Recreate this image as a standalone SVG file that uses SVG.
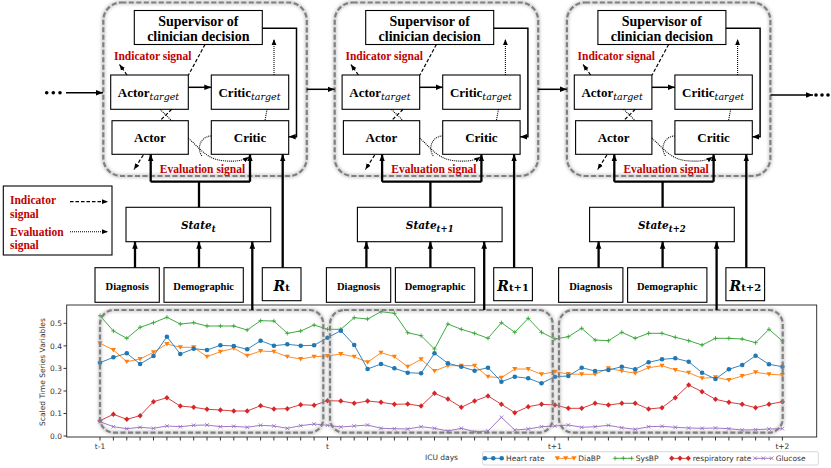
<svg xmlns="http://www.w3.org/2000/svg" width="831" height="468" viewBox="0 0 831 468">
<defs>
<style>
.box{fill:#fff;stroke:#000;stroke-width:1.1}
.sup{font:bold 14px "Liberation Serif",serif;text-anchor:middle}
.lab{font:bold 13px "Liberation Serif",serif;text-anchor:middle}
.sub{font-family:"DejaVu Serif",serif;font-style:italic;font-weight:normal;font-size:9.5px}
.sig{font:bold 11.5px "Liberation Serif",serif;fill:#c00000}
.small{font:bold 10.5px "Liberation Serif",serif;text-anchor:middle}
.math{font:bold italic 10.5px "DejaVu Serif",serif;text-anchor:middle}
.msub{font-size:8.5px}
.rr{font:bold italic 14px "DejaVu Serif",serif;text-anchor:middle}
.rsub{font-style:normal;font-size:10px}
.s{fill:none;stroke:#000;stroke-width:1.5}
.thick{fill:none;stroke:#000;stroke-width:2.3}
.dash{fill:none;stroke:#000;stroke-width:1.2;stroke-dasharray:3.5 2}
.dot{fill:none;stroke:#000;stroke-width:1.1;stroke-dasharray:1 1}
.cont{fill:none;stroke:#808080;stroke-width:2.2;stroke-dasharray:5 2.5}
.halo{fill:none;stroke:#999;stroke-width:4;opacity:.45}
.ax{fill:none;stroke:#222;stroke-width:0.9}
.tk{font:7.5px "DejaVu Sans",sans-serif;fill:#333}
.ser{fill:none;stroke-width:0.9}
.hr{stroke:#1f77b4;marker-start:url(#mhr);marker-mid:url(#mhr);marker-end:url(#mhr)}
.db{stroke:#ff7f0e;marker-start:url(#mdb);marker-mid:url(#mdb);marker-end:url(#mdb)}
.sb{stroke:#2ca02c;marker-start:url(#msb);marker-mid:url(#msb);marker-end:url(#msb)}
.rp{stroke:#d62728;marker-start:url(#mrr);marker-mid:url(#mrr);marker-end:url(#mrr)}
.gl{stroke:#9467bd;marker-start:url(#mgl);marker-mid:url(#mgl);marker-end:url(#mgl)}
</style>
<filter id="blur" x="-10%" y="-10%" width="120%" height="120%"><feGaussianBlur stdDeviation="1.5"/></filter>
<marker id="ah" viewBox="0 0 10 10" refX="10" refY="5" markerWidth="7" markerHeight="7" orient="auto" markerUnits="userSpaceOnUse"><path d="M0,1L10,5L0,9z" fill="#000"/></marker>
<marker id="ahs" viewBox="0 0 10 10" refX="10" refY="5" markerWidth="6" markerHeight="6" orient="auto" markerUnits="userSpaceOnUse"><path d="M0,1L10,5L0,9z" fill="#000"/></marker>
<marker id="mhr" viewBox="-3 -3 6 6" markerWidth="6" markerHeight="6" markerUnits="userSpaceOnUse" overflow="visible"><circle r="2.3" fill="#1f77b4"/></marker>
<marker id="mdb" viewBox="-3 -3 6 6" markerWidth="6" markerHeight="6" markerUnits="userSpaceOnUse" overflow="visible"><path d="M-2.6,-2L2.6,-2L0,2.4z" fill="#ff7f0e"/></marker>
<marker id="msb" viewBox="-3 -3 6 6" markerWidth="6" markerHeight="6" markerUnits="userSpaceOnUse" overflow="visible"><path d="M-2.2,0H2.2M0,-2.2V2.2" stroke="#2ca02c" stroke-width="0.8"/></marker>
<marker id="mrr" viewBox="-3 -3 6 6" markerWidth="6" markerHeight="6" markerUnits="userSpaceOnUse" overflow="visible"><path d="M0,-2.8L2.6,0L0,2.8L-2.6,0z" fill="#d62728"/></marker>
<marker id="mgl" viewBox="-3 -3 6 6" markerWidth="6" markerHeight="6" markerUnits="userSpaceOnUse" overflow="visible"><path d="M-1.8,-1.8L1.8,1.8M-1.8,1.8L1.8,-1.8" stroke="#9467bd" stroke-width="0.8"/></marker>
</defs>
<rect width="831" height="468" fill="#fff"/>

<!-- ===== Chart ===== -->
<g id="chart">
<g id="series">
<polyline class="ser sb" points="100,315.7 113.4,331 126.8,338.3 140.1,327.3 153.5,322.7 166.9,317.3 180.3,324 193.7,322.7 207,326 220.4,326 233.8,326 247.2,330 260.6,320.7 273.9,321 287.3,333.3 300.7,331 314.1,325 327.5,329.3 340.8,329.3 354.2,317.7 367.6,319 381,311.7 394.4,313.3 407.7,332.7 421.1,335.7 434.5,349 447.9,324 461.3,329.3 474.6,333.3 488,338.3 501.4,322.7 514.8,332.3 528.2,318.3 541.5,332.3 554.9,339 568.3,336.7 581.7,328.3 595.1,340 608.4,340.7 621.8,332.3 635.2,338.3 648.6,333.3 662,333.3 675.3,337.3 688.7,340.7 702.1,345 715.5,338.3 728.9,338.3 742.2,339 755.6,342.7 769,329.3 782.4,341"/>
<polyline class="ser db" points="100,343.3 113.4,350 126.8,361.7 140.1,359 153.5,352.3 166.9,344 180.3,347.3 193.7,347.3 207,356.7 220.4,351.7 233.8,348.3 247.2,355.7 260.6,351 273.9,351.7 287.3,356.7 300.7,359 314.1,356.7 327.5,356 340.8,354 354.2,356.7 367.6,362.3 381,352.7 394.4,356.7 407.7,366.7 421.1,359.3 434.5,371 447.9,365.7 461.3,365.7 474.6,365.7 488,376.7 501.4,377.7 514.8,369 528.2,369 541.5,374.3 554.9,371.7 568.3,374 581.7,374.3 595.1,374.3 608.4,368.3 621.8,371 635.2,373.3 648.6,367.7 662,365.7 675.3,370 688.7,372.7 702.1,378.3 715.5,377.3 728.9,380 742.2,376 755.6,372.3 769,374.3 782.4,375"/>
<polyline class="ser hr" points="100,362.7 113.4,357.3 126.8,353.3 140.1,364 153.5,356 166.9,336.7 180.3,354 193.7,348.7 207,350 220.4,345.3 233.8,346 247.2,349.3 260.6,340.7 273.9,345.7 287.3,344.3 300.7,345.7 314.1,345.3 327.5,337.7 340.8,330.7 354.2,345 367.6,369 381,364 394.4,368.3 407.7,372.7 421.1,373.3 434.5,353.3 447.9,363.3 461.3,366.7 474.6,370.7 488,367.7 501.4,381.7 514.8,376.7 528.2,378.3 541.5,383.3 554.9,376.7 568.3,376 581.7,367.7 595.1,371 608.4,370 621.8,366.7 635.2,369.3 648.6,362.3 662,359.3 675.3,358.3 688.7,361.7 702.1,372.7 715.5,379 728.9,369.3 742.2,365 755.6,355.7 769,364.3 782.4,366.7"/>
<polyline class="ser rp" points="100,420.7 113.4,414.3 126.8,419.3 140.1,415.7 153.5,401.7 166.9,397.7 180.3,406 193.7,407.3 207,409.3 220.4,410 233.8,411 247.2,411 260.6,405.7 273.9,409 287.3,408.7 300.7,404.7 314.1,405.3 327.5,400.7 340.8,401 354.2,403.3 367.6,401 381,402.3 394.4,404.3 407.7,404 421.1,406 434.5,393.3 447.9,399 461.3,407.3 474.6,401 488,396 501.4,404.3 514.8,412.7 528.2,406.7 541.5,404.3 554.9,405 568.3,408.3 581.7,408.3 595.1,403.3 608.4,405 621.8,403.3 635.2,403.3 648.6,409 662,407.7 675.3,397.7 688.7,385 702.1,391.7 715.5,399.3 728.9,402.3 742.2,404.3 755.6,407.7 769,404.3 782.4,401.7"/>
<polyline class="ser gl" points="100,421.7 113.4,426.7 126.8,428.7 140.1,427.3 153.5,428.3 166.9,426 180.3,426.7 193.7,425.3 207,425 220.4,426.7 233.8,426.3 247.2,427.3 260.6,425.3 273.9,426 287.3,428.3 300.7,425.7 314.1,424 327.5,425.3 340.8,427 354.2,426 367.6,425 381,428.3 394.4,428.7 407.7,429 421.1,426.7 434.5,428.3 447.9,431 461.3,428.3 474.6,431.7 488,431 501.4,417.3 514.8,430 528.2,429 541.5,426.7 554.9,426 568.3,425 581.7,427.3 595.1,426.7 608.4,425.3 621.8,427.7 635.2,429.3 648.6,426.7 662,426.3 675.3,427.3 688.7,428 702.1,428.3 715.5,428 728.9,428.7 742.2,430 755.6,429.7 769,429 782.4,428.7"/>
</g>
<g id="axes">
<rect class="ax" x="66.7" y="305" width="750" height="132"/>
<path class="ax" d="M66.7,436H63.5M66.7,413.5H63.5M66.7,391H63.5M66.7,368.4H63.5M66.7,345.9H63.5M66.7,323.3H63.5"/>
<path class="ax" d="M100,437V440.5M113.4,437V440.5M126.8,437V440.5M140.1,437V440.5M153.5,437V440.5M166.9,437V440.5M180.3,437V440.5M193.7,437V440.5M207,437V440.5M220.4,437V440.5M233.8,437V440.5M247.2,437V440.5M260.6,437V440.5M273.9,437V440.5M287.3,437V440.5M300.7,437V440.5M314.1,437V440.5M327.5,437V440.5M340.8,437V440.5M354.2,437V440.5M367.6,437V440.5M381,437V440.5M394.4,437V440.5M407.7,437V440.5M421.1,437V440.5M434.5,437V440.5M447.9,437V440.5M461.3,437V440.5M474.6,437V440.5M488,437V440.5M501.4,437V440.5M514.8,437V440.5M528.2,437V440.5M541.5,437V440.5M554.9,437V440.5M568.3,437V440.5M581.7,437V440.5M595.1,437V440.5M608.4,437V440.5M621.8,437V440.5M635.2,437V440.5M648.6,437V440.5M662,437V440.5M675.3,437V440.5M688.7,437V440.5M702.1,437V440.5M715.5,437V440.5M728.9,437V440.5M742.2,437V440.5M755.6,437V440.5M769,437V440.5M782.4,437V440.5"/>
<g class="tk" text-anchor="end">
<text x="62" y="438.7">0.0</text>
<text x="62" y="416.2">0.1</text>
<text x="62" y="393.7">0.2</text>
<text x="62" y="371.1">0.3</text>
<text x="62" y="348.6">0.4</text>
<text x="62" y="326">0.5</text>
</g>
<g class="tk" text-anchor="middle">
<text x="100" y="448.5">t-1</text>
<text x="327.5" y="448.5">t</text>
<text x="554.9" y="448.5">t+1</text>
<text x="782.4" y="448.5">t+2</text>
<text x="441.5" y="460">ICU days</text>
<text transform="translate(45,372) rotate(-90)">Scaled Time Series Variables</text>
</g>
</g>
<g id="chart-windows">
<rect class="halo" x="100" y="310" width="223.3" height="122.7" rx="14" filter="url(#blur)"/>
<rect class="halo" x="330" y="310" width="222.7" height="122.7" rx="14" filter="url(#blur)"/>
<rect class="halo" x="559" y="310" width="223.7" height="122.7" rx="14" filter="url(#blur)"/>
<rect class="cont" x="100" y="310" width="223.3" height="122.7" rx="14"/>
<rect class="cont" x="330" y="310" width="222.7" height="122.7" rx="14"/>
<rect class="cont" x="559" y="310" width="223.7" height="122.7" rx="14"/>
</g>
<g id="chart-legend">
<rect x="482.7" y="451.7" width="335.6" height="13.3" rx="1.5" fill="#fff" stroke="#ccc" stroke-width="0.8"/>
<polyline class="ser hr" points="485,458.3 493.3,458.3 501.7,458.3"/>
<polyline class="ser db" points="557.3,458.3 565.7,458.3 574,458.3"/>
<polyline class="ser sb" points="615,458.3 623.3,458.3 631.7,458.3"/>
<polyline class="ser rp" points="671.7,458.3 680,458.3 688.3,458.3"/>
<polyline class="ser gl" points="755,458.3 763.3,458.3 771.7,458.3"/>
<g class="tk">
<text x="506" y="461">Heart rate</text>
<text x="578.3" y="461">DiaBP</text>
<text x="635.7" y="461">SysBP</text>
<text x="692.7" y="461">respiratory rate</text>
<text x="775.7" y="461">Glucose</text>
</g>
</g>
</g>

<!-- ===== Legend (signals) ===== -->
<g id="signal-legend">
<rect class="box" x="3.3" y="186" width="108.7" height="69"/>
<text class="sig" x="10" y="204">Indicator</text>
<text class="sig" x="10" y="218">signal</text>
<text class="sig" x="10" y="235.5">Evaluation</text>
<text class="sig" x="10" y="249">signal</text>
<path class="dash" d="M70,201.7H108" marker-end="url(#ahs)"/>
<path class="dot" d="M70,231.7H108" marker-end="url(#ahs)"/>
</g>

<!-- ===== Block t ===== -->
<g id="block-t" transform="translate(103,0)">
<rect class="halo" x="0.3" y="2.5" width="203.5" height="173.5" rx="18" filter="url(#blur)"/>
<rect class="cont" x="0.3" y="2.5" width="203.5" height="173.5" rx="18"/>
<g id="supervisor-t"><rect class="box" x="31.3" y="10.5" width="128" height="34"/><text class="sup" x="95.3" y="25.5">Supervisor of</text><text class="sup" x="95.3" y="41">clinician decision</text></g>
<text class="sig" x="11" y="59.5">Indicator signal</text>
<g id="actor-target-t"><rect class="box" x="7.7" y="75" width="77.6" height="34.3"/><text class="lab" x="45.5" y="97">Actor<tspan class="sub" dy="2.5">target</tspan></text></g>
<g id="critic-target-t"><rect class="box" x="108.3" y="75" width="77.4" height="34.3"/><text class="lab" x="146.5" y="97">Critic<tspan class="sub" dy="2.5">target</tspan></text></g>
<g id="actor-t"><rect class="box" x="9" y="120.7" width="76.3" height="33.6"/><text class="lab" x="47" y="142">Actor</text></g>
<g id="critic-t"><rect class="box" x="108.3" y="120.7" width="77.4" height="33.6"/><text class="lab" x="147" y="142">Critic</text></g>
<text class="sig" x="99.5" y="173.3" text-anchor="middle">Evaluation signal</text>
<g id="state-t"><rect class="box" x="23" y="207.3" width="144.7" height="34.4"/><text class="math" x="95.3" y="229.3">State<tspan class="msub" dy="2.5">t</tspan></text></g>
<g id="diagnosis-t"><rect class="box" x="-8" y="267.7" width="64.3" height="34.6"/><text class="small" x="24.2" y="289.5">Diagnosis</text></g>
<g id="demographic-t"><rect class="box" x="61" y="267.7" width="79.3" height="34.6"/><text class="small" x="100.7" y="289.5">Demographic</text></g>
<g id="reward-t"><rect class="box" x="159.3" y="267.7" width="38.7" height="33"/><text class="rr" x="178.7" y="290.5">R<tspan class="rsub">t</tspan></text></g>
</g>

<!-- ===== Block t+1 ===== -->
<g id="block-t1" transform="translate(334.4,0)">
<rect class="halo" x="0.3" y="2.5" width="203.5" height="173.5" rx="18" filter="url(#blur)"/>
<rect class="cont" x="0.3" y="2.5" width="203.5" height="173.5" rx="18"/>
<g id="supervisor-t1"><rect class="box" x="31.3" y="10.5" width="128" height="34"/><text class="sup" x="95.3" y="25.5">Supervisor of</text><text class="sup" x="95.3" y="41">clinician decision</text></g>
<text class="sig" x="11" y="59.5">Indicator signal</text>
<g id="actor-target-t1"><rect class="box" x="7.7" y="75" width="77.6" height="34.3"/><text class="lab" x="45.5" y="97">Actor<tspan class="sub" dy="2.5">target</tspan></text></g>
<g id="critic-target-t1"><rect class="box" x="108.3" y="75" width="77.4" height="34.3"/><text class="lab" x="146.5" y="97">Critic<tspan class="sub" dy="2.5">target</tspan></text></g>
<g id="actor-t1"><rect class="box" x="9" y="120.7" width="76.3" height="33.6"/><text class="lab" x="47" y="142">Actor</text></g>
<g id="critic-t1"><rect class="box" x="108.3" y="120.7" width="77.4" height="33.6"/><text class="lab" x="147" y="142">Critic</text></g>
<text class="sig" x="99.5" y="173.3" text-anchor="middle">Evaluation signal</text>
<g id="state-t1"><rect class="box" x="23" y="207.3" width="144.7" height="34.4"/><text class="math" x="95.3" y="229.3">State<tspan class="msub" dy="2.5">t+1</tspan></text></g>
<g id="diagnosis-t1"><rect class="box" x="-8" y="267.7" width="64.3" height="34.6"/><text class="small" x="24.2" y="289.5">Diagnosis</text></g>
<g id="demographic-t1"><rect class="box" x="61" y="267.7" width="79.3" height="34.6"/><text class="small" x="100.7" y="289.5">Demographic</text></g>
<g id="reward-t1"><rect class="box" x="159.3" y="267.7" width="38.7" height="33"/><text class="rr" x="178.7" y="290.5">R<tspan class="rsub">t+1</tspan></text></g>
</g>

<!-- ===== Block t+2 ===== -->
<g id="block-t2" transform="translate(566.6,0)">
<rect class="halo" x="0.3" y="2.5" width="203.5" height="173.5" rx="18" filter="url(#blur)"/>
<rect class="cont" x="0.3" y="2.5" width="203.5" height="173.5" rx="18"/>
<g id="supervisor-t2"><rect class="box" x="31.3" y="10.5" width="128" height="34"/><text class="sup" x="95.3" y="25.5">Supervisor of</text><text class="sup" x="95.3" y="41">clinician decision</text></g>
<text class="sig" x="11" y="59.5">Indicator signal</text>
<g id="actor-target-t2"><rect class="box" x="7.7" y="75" width="77.6" height="34.3"/><text class="lab" x="45.5" y="97">Actor<tspan class="sub" dy="2.5">target</tspan></text></g>
<g id="critic-target-t2"><rect class="box" x="108.3" y="75" width="77.4" height="34.3"/><text class="lab" x="146.5" y="97">Critic<tspan class="sub" dy="2.5">target</tspan></text></g>
<g id="actor-t2"><rect class="box" x="9" y="120.7" width="76.3" height="33.6"/><text class="lab" x="47" y="142">Actor</text></g>
<g id="critic-t2"><rect class="box" x="108.3" y="120.7" width="77.4" height="33.6"/><text class="lab" x="147" y="142">Critic</text></g>
<text class="sig" x="99.5" y="173.3" text-anchor="middle">Evaluation signal</text>
<g id="state-t2"><rect class="box" x="23" y="207.3" width="144.7" height="34.4"/><text class="math" x="95.3" y="229.3">State<tspan class="msub" dy="2.5">t+2</tspan></text></g>
<g id="diagnosis-t2"><rect class="box" x="-8" y="267.7" width="64.3" height="34.6"/><text class="small" x="24.2" y="289.5">Diagnosis</text></g>
<g id="demographic-t2"><rect class="box" x="61" y="267.7" width="79.3" height="34.6"/><text class="small" x="100.7" y="289.5">Demographic</text></g>
<g id="reward-t2"><rect class="box" x="159.3" y="267.7" width="38.7" height="33"/><text class="rr" x="178.7" y="290.5">R<tspan class="rsub">t+2</tspan></text></g>
</g>

<!-- ===== Connectors ===== -->
<g id="connectors">
<g id="flow">
<circle cx="46.7" cy="92.7" r="1.8"/><circle cx="53.3" cy="92.7" r="1.8"/><circle cx="60" cy="92.7" r="1.8"/>
<path class="s" d="M66,92.7H103" marker-end="url(#ah)"/>
<path class="s" d="M306.8,89.3H334.5" marker-end="url(#ah)"/>
<path class="s" d="M538.2,89.3H566.8" marker-end="url(#ah)"/>
<path class="s" d="M770.5,95H813" marker-end="url(#ah)"/>
<circle cx="816" cy="95" r="1.8"/><circle cx="822" cy="95" r="1.8"/><circle cx="828" cy="95" r="1.8"/>
</g>
<g id="links-t" transform="translate(103,0)">
<path class="s" d="M85.3,87.3H108.3" marker-end="url(#ah)"/>
<path class="s" d="M159.3,28.3H193.5V136.7H185.7" marker-end="url(#ah)"/>
<path class="dash" d="M102,44.5L85.5,75"/>
<path class="dash" d="M24,75L16.5,64.5" marker-end="url(#ahs)"/>
<path class="dot" d="M171,75V39" marker-end="url(#ahs)"/>
<path class="dot" d="M164,109.3L162,120.7"/>
<path class="dot" d="M57,109.3L68.7,120.7"/>
<path class="dash" d="M68.7,109.3L57,120.7"/>
<path class="dot" d="M85.3,138.3C95,146 102,158 118,160.5C130,162 140,161 146,157" marker-end="url(#ahs)"/>
<path class="dot" d="M108.3,136C98,136 93,148 99,156"/>
<path class="dash" d="M40.3,155L31,169.5" marker-end="url(#ahs)"/>
<path class="thick" d="M96,207.3V181.7M47.7,181.7H147"/>
<path class="thick" d="M47.7,181.7V154.3" marker-end="url(#ah)"/>
<path class="thick" d="M147,181.7V154.3" marker-end="url(#ah)"/>
<path class="thick" d="M179.7,267.7V154.3" marker-end="url(#ah)"/>
<path class="thick" d="M32,267.7V241.7" marker-end="url(#ah)"/>
<path class="thick" d="M96,267.7V241.7" marker-end="url(#ah)"/>
<path class="thick" d="M149.3,310V241.7" marker-end="url(#ah)"/>
</g>
<g id="links-t1" transform="translate(334.4,0)">
<path class="s" d="M85.3,87.3H108.3" marker-end="url(#ah)"/>
<path class="s" d="M159.3,28.3H193.5V136.7H185.7" marker-end="url(#ah)"/>
<path class="dash" d="M102,44.5L85.5,75"/>
<path class="dash" d="M24,75L16.5,64.5" marker-end="url(#ahs)"/>
<path class="dot" d="M171,75V39" marker-end="url(#ahs)"/>
<path class="dot" d="M164,109.3L162,120.7"/>
<path class="dot" d="M57,109.3L68.7,120.7"/>
<path class="dash" d="M68.7,109.3L57,120.7"/>
<path class="dot" d="M85.3,138.3C95,146 102,158 118,160.5C130,162 140,161 146,157" marker-end="url(#ahs)"/>
<path class="dot" d="M108.3,136C98,136 93,148 99,156"/>
<path class="dash" d="M40.3,155L31,169.5" marker-end="url(#ahs)"/>
<path class="thick" d="M96,207.3V181.7M47.7,181.7H147"/>
<path class="thick" d="M47.7,181.7V154.3" marker-end="url(#ah)"/>
<path class="thick" d="M147,181.7V154.3" marker-end="url(#ah)"/>
<path class="thick" d="M179.7,267.7V154.3" marker-end="url(#ah)"/>
<path class="thick" d="M32,267.7V241.7" marker-end="url(#ah)"/>
<path class="thick" d="M96,267.7V241.7" marker-end="url(#ah)"/>
<path class="thick" d="M149.8,310V241.7" marker-end="url(#ah)"/>
</g>
<g id="links-t2" transform="translate(566.6,0)">
<path class="s" d="M85.3,87.3H108.3" marker-end="url(#ah)"/>
<path class="s" d="M159.3,28.3H193.5V136.7H185.7" marker-end="url(#ah)"/>
<path class="dash" d="M102,44.5L85.5,75"/>
<path class="dash" d="M24,75L16.5,64.5" marker-end="url(#ahs)"/>
<path class="dot" d="M171,75V39" marker-end="url(#ahs)"/>
<path class="dot" d="M164,109.3L162,120.7"/>
<path class="dot" d="M57,109.3L68.7,120.7"/>
<path class="dash" d="M68.7,109.3L57,120.7"/>
<path class="dot" d="M85.3,138.3C95,146 102,158 118,160.5C130,162 140,161 146,157" marker-end="url(#ahs)"/>
<path class="dot" d="M108.3,136C98,136 93,148 99,156"/>
<path class="dash" d="M40.3,155L31,169.5" marker-end="url(#ahs)"/>
<path class="thick" d="M96,207.3V181.7M47.7,181.7H147"/>
<path class="thick" d="M47.7,181.7V154.3" marker-end="url(#ah)"/>
<path class="thick" d="M147,181.7V154.3" marker-end="url(#ah)"/>
<path class="thick" d="M179.7,267.7V154.3" marker-end="url(#ah)"/>
<path class="thick" d="M32,267.7V241.7" marker-end="url(#ah)"/>
<path class="thick" d="M96,267.7V241.7" marker-end="url(#ah)"/>
<path class="thick" d="M150,310V241.7" marker-end="url(#ah)"/>
</g>
</g>
</svg>
